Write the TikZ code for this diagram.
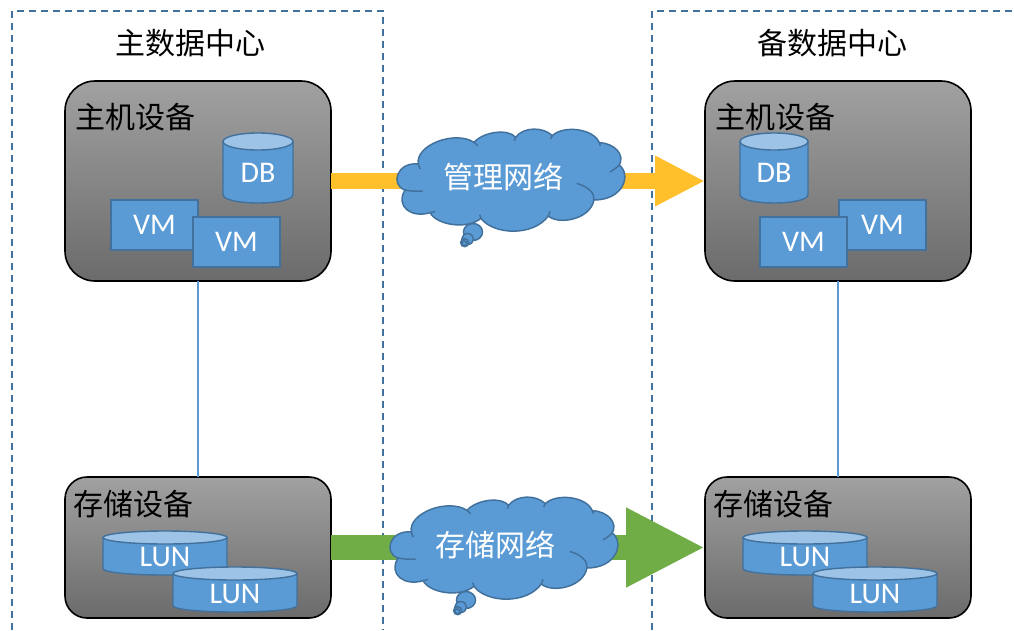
\documentclass[tikz,border=0pt]{standalone}
\usepackage{fontspec}
\setmainfont{Carlito}
\newfontfamily\cjk{Noto Sans CJK SC}
\usetikzlibrary{arrows.meta}
\definecolor{bluefill}{HTML}{5B9BD5}
\definecolor{blueline}{HTML}{41719C}
\definecolor{bluelight}{HTML}{9DC3E6}
\definecolor{yellowarrow}{HTML}{FFC02B}
\definecolor{greenarrow}{HTML}{70AD47}
\tikzset{
  devicebox/.style={draw=black,line width=1.6pt,top color=black!37,bottom color=black!58,inner sep=0pt,outer sep=0pt,anchor=north west},
  hostbox/.style={devicebox,rounded corners=30pt,minimum width=266pt,minimum height=200pt},
  storebox/.style={devicebox,rounded corners=22pt,minimum width=266pt,minimum height=141pt},
  vmbox/.style={draw=blueline,line width=1.3pt,fill=bluefill,text=white,font=\fontsize{30}{30}\selectfont,inner sep=0pt,outer sep=0pt,minimum width=87pt,minimum height=50pt,anchor=north west},
  cyltext/.style={text=white,font=\fontsize{30}{30}\selectfont,inner sep=0pt},
  cjklabel/.style={text=black,font=\cjk\fontsize{30}{30}\selectfont,inner sep=0pt},
  cloudtext/.style={text=white,font=\cjk\fontsize{30}{30}\selectfont,inner sep=0pt},
  dashedframe/.style={draw=blueline,line width=1.5pt,dash pattern=on 7pt off 5pt},
  linkline/.style={draw=bluefill,line width=1.4pt},
  cloudline/.style={draw=blueline,line width=1.5pt,fill=none},
}
% name, x1, y1, x2, y2, ry, text
\newcommand{\cylshape}[7]{%
  \pgfmathsetmacro{\cxm}{(#2+#4)/2}
  \pgfmathsetmacro{\cya}{#3+#6}
  \pgfmathsetmacro{\cyb}{#5-#6}
  \pgfmathsetmacro{\cyc}{#5+#6/3}
  \filldraw[draw=blueline,line width=1.4pt,fill=bluefill]
    (#2,\cya) -- (#2,\cyb) .. controls (#2,\cyc) and (#4,\cyc) .. (#4,\cyb) -- (#4,\cya) -- cycle;
  \pgfmathsetmacro{\crx}{(#4-#2)/2}
  \filldraw[draw=blueline,line width=1.4pt,fill=bluelight]
    (\cxm,\cya) ellipse [x radius=\crx pt,y radius=#6 pt];
  \node[cyltext] (#1) at (\cxm,{(\cya+#5)/2+1}) {#7};
}
% x offset, y offset (cloud outline in 3x units of the crop)
\newcommand{\cloudshape}[2]{%
  \begin{scope}[shift={(#1,#2)},x=0.3333pt,y=-0.3333pt]
    \filldraw[draw=blueline,line width=1.5pt,fill=bluefill] (279,366) ellipse [x radius=9.5pt,y radius=8.5pt];
    \filldraw[draw=blueline,line width=1.5pt,fill=bluefill] (263,387) ellipse [x radius=5.8pt,y radius=5.5pt];
    \filldraw[draw=blueline,line width=1.5pt,fill=bluefill] (254,398) ellipse [x radius=4pt,y radius=4pt];
    \filldraw[draw=blueline,line width=1.5pt,fill=bluefill] (253,400) ellipse [x radius=2.4pt,y radius=2.4pt];
    \filldraw[draw=blueline,line width=1.5pt,fill=bluefill]
      (115,162) .. controls (105,105) and (225,60) .. (282,97)
      .. controls (310,65) and (385,55) .. (407,82)
      .. controls (430,50) and (490,50) .. (517,77)
      .. controls (550,45) and (640,55) .. (658,98)
      .. controls (705,100) and (735,135) .. (718,165)
      .. controls (755,195) and (730,270) .. (642,270)
      .. controls (630,330) and (535,345) .. (505,318)
      .. controls (460,380) and (340,375) .. (303,325)
      .. controls (260,360) and (170,345) .. (150,308)
      .. controls (95,325) and (45,290) .. (75,240)
      .. controls (30,225) and (50,155) .. (115,162) -- cycle;
    \draw[cloudline] (75,240) .. controls (90,243) and (110,245) .. (128,243);
    \draw[cloudline] (150,308) .. controls (155,308) and (160,306) .. (165,304);
    \draw[cloudline] (303,325) .. controls (301,322) and (300,318) .. (299,314);
    \draw[cloudline] (505,318) .. controls (507,314) and (509,309) .. (510,304);
    \draw[cloudline] (642,270) .. controls (645,250) and (625,230) .. (590,220);
    \draw[cloudline] (718,165) .. controls (710,173) and (700,180) .. (690,186);
    \draw[cloudline] (658,98) .. controls (660,101) and (661,104) .. (661,107);
    \draw[cloudline] (517,77) .. controls (515,80) and (513,83) .. (512,87);
    \draw[cloudline] (407,82) .. controls (406,85) and (405,88) .. (403,92);
    \draw[cloudline] (282,97) .. controls (286,100) and (290,103) .. (293,107);
    \draw[cloudline] (115,162) .. controls (116,167) and (118,172) .. (121,177);
  \end{scope}
}
\begin{document}
\begin{tikzpicture}[x=1pt,y=-1pt]
\useasboundingbox (0,0) rectangle (1014,630);
\fill[white] (0,0) rectangle (1014,630);
% frames
\coordinate (fa) at (12,630);
\coordinate (fb) at (12,11);
\coordinate (fc) at (383,11);
\coordinate (fd) at (383,630);
\coordinate (fe) at (652,630);
\coordinate (ff) at (652,11);
\coordinate (fg) at (1014,11);
\draw[dashedframe] (fa) -- (fb) -- (fc) -- (fd);
\draw[dashedframe] (fe) -- (ff) -- (fg);
\node[cjklabel] (t1) at (190,43) {主数据中心};
\node[cjklabel] (t2) at (832,43) {备数据中心};
% devices
\node[hostbox] (h1) at (65,81) {};
\node[hostbox] (h2) at (705,81) {};
\node[storebox] (s1) at (65,477) {};
\node[storebox] (s2) at (705,477) {};
% links
\draw[linkline] (h1.south) -- (s1.north);
\draw[linkline] (h2.south) -- (s2.north);
\draw[yellowarrow,line width=16pt,-{Triangle[length=50pt,width=47pt]}] (h1.east) -- (h2.west);
\draw[greenarrow,line width=25pt,-{Triangle[length=79pt,width=74pt]}] (s1.east) -- (s2.west);
% labels
\node[cjklabel] (l1) at (135,117) {主机设备};
\node[cjklabel] (l2) at (775,117) {主机设备};
\node[cjklabel] (l3) at (133,504) {存储设备};
\node[cjklabel] (l4) at (773,504) {存储设备};
% contents
\cylshape{db1}{223}{133}{293}{203}{8.5}{DB}
\cylshape{db2}{740}{133}{808}{203}{8.5}{DB}
\node[vmbox] (vm1) at (111,200) {VM};
\node[vmbox] (vm2) at (193,217) {VM};
\node[vmbox] (vm3) at (839,200) {VM};
\node[vmbox] (vm4) at (760,217) {VM};
\cylshape{lun1}{103}{531}{227}{575}{6.5}{LUN}
\cylshape{lun2}{173}{567}{297}{612}{6.5}{LUN}
\cylshape{lun3}{743}{531}{867}{575}{6.5}{LUN}
\cylshape{lun4}{813}{567}{937}{612}{6.5}{LUN}
% clouds
\cloudshape{380}{110}
\node[cloudtext] (c1) at (503,177) {管理网络};
\cloudshape{373}{478}
\node[cloudtext] (c2) at (495,545) {存储网络};
\end{tikzpicture}
\end{document}
